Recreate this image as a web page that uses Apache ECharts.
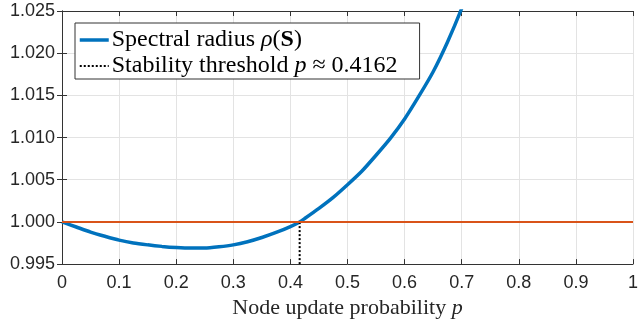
<!DOCTYPE html>
<html>
<head>
<meta charset="utf-8">
<script src="https://cdn.jsdelivr.net/npm/echarts@6/dist/echarts.min.js"></script>
<style>html,body{margin:0;padding:0;background:#fff;}#c{width:641px;height:324px;}</style>
</head>
<body>
<div id="c"></div>
<script>
// Data
var pValues   = [0, 0.025, 0.05, 0.075, 0.1, 0.125, 0.15, 0.175, 0.2, 0.225, 0.25, 0.275, 0.3, 0.325, 0.35, 0.375, 0.4, 0.4162, 0.425, 0.45, 0.475, 0.5, 0.525, 0.55, 0.575, 0.6, 0.625, 0.65, 0.675, 0.7, 0.725];
var rhoValues = [1.0000, 0.9994, 0.9988, 0.9983, 0.99784, 0.9975, 0.99728, 0.9971, 0.99697, 0.99690, 0.99690, 0.99705, 0.99728, 0.99765, 0.99815, 0.99875, 0.99945, 1.0000, 1.0004, 1.0016, 1.0029, 1.0044, 1.0060, 1.0079, 1.0099, 1.0122, 1.0149, 1.0178, 1.0213, 1.0253, 1.0298];
var thresholdP = 0.4162;
var unityLevel = 1.0;
var unityX = [0, 1];
var xTicks = ['0','0.1','0.2','0.3','0.4','0.5','0.6','0.7','0.8','0.9','1'];
var yTicks = ['0.995','1.000','1.005','1.010','1.015','1.020','1.025'];
var seriesNames = ['Spectral radius ρ(S)', 'Stability threshold p ≈ 0.4162'];

var rhoData = pValues.map(function (p, i) { return [p, rhoValues[i]]; });
var threshData = [[thresholdP, Number(yTicks[0])], [thresholdP, unityLevel]];
var unityData = unityX.map(function (x) { return [x, unityLevel]; });

var axisColor = '#333333';
var gridColor = '#e3e3e3';
var serif = 'Liberation Serif, Times New Roman, serif';
var xMin = Number(xTicks[0]), xMax = Number(xTicks[xTicks.length - 1]);
var yMin = Number(yTicks[0]), yMax = Number(yTicks[yTicks.length - 1]);

var chart = echarts.init(document.getElementById('c'), null, {renderer: 'canvas'});
var baseX = {
  type: 'value', min: xMin, max: xMax, interval: 0.1,
  axisLine: {show: true, lineStyle: {color: axisColor, width: 1}},
  axisTick: {show: true, inside: true, length: 5, lineStyle: {color: axisColor}},
  splitLine: {show: false}
};
var baseY = {
  type: 'value', min: yMin, max: yMax, interval: 0.005,
  axisLine: {show: true, lineStyle: {color: axisColor, width: 1}},
  axisTick: {show: true, inside: true, length: 5, lineStyle: {color: axisColor}},
  splitLine: {show: false}
};
var option = {
  animation: false,
  backgroundColor: '#ffffff',
  grid: {left: 62, right: 2, top: 11, bottom: 59, containLabel: false},
  xAxis: [
    Object.assign({}, baseX, {
      position: 'bottom',
      splitLine: {show: true, lineStyle: {color: gridColor, width: 1}},
      axisLabel: {
        margin: 10, color: '#262626', fontSize: 18, fontFamily: 'Liberation Sans, Arial, sans-serif',
        formatter: function (v) { return xTicks[Math.round(v * 10)]; }
      },
      name: '{n|Node update probability }{i|p}',
      nameLocation: 'middle', nameGap: 30,
      nameTextStyle: {
        rich: {
          n: {fontFamily: serif, fontSize: 22, color: '#262626'},
          i: {fontFamily: serif, fontSize: 22, fontStyle: 'italic', color: '#262626'}
        }
      }
    }),
    Object.assign({}, baseX, {position: 'top', axisLabel: {show: false}})
  ],
  yAxis: [
    Object.assign({}, baseY, {
      position: 'left',
      splitLine: {show: true, lineStyle: {color: gridColor, width: 1}},
      axisLabel: {
        margin: 7, color: '#262626', fontSize: 18, fontFamily: 'Liberation Sans, Arial, sans-serif',
        formatter: function (v) { return yTicks[Math.round((v - yMin) / 0.005)]; }
      }
    }),
    Object.assign({}, baseY, {position: 'right', axisLabel: {show: false}})
  ],
  legend: {
    data: [
      {name: seriesNames[0], lineStyle: {width: 3.5, color: '#0072BD'}},
      {name: seriesNames[1], lineStyle: {width: 2, color: '#000000', type: [2, 2]}}
    ],
    orient: 'vertical',
    left: 75, top: 23,
    padding: [5, 22, 1, 3],
    itemGap: 2,
    itemWidth: 29, itemHeight: 14,
    backgroundColor: '#ffffff',
    borderColor: '#333333', borderWidth: 1,
    itemStyle: {opacity: 0, borderWidth: 0},
    formatter: function (name) {
      if (name === seriesNames[0]) return '{n|Spectral radius }{i|ρ}{n|(}{b|S}{n|)}';
      return '{n|Stability threshold }{i|p}{n| ≈ 0.4162}';
    },
    textStyle: {
      padding: [0, 0, 0, -2],
      rich: {
        n: {fontFamily: serif, fontSize: 24, color: '#000', lineHeight: 26},
        i: {fontFamily: serif, fontSize: 24, fontStyle: 'italic', color: '#000', lineHeight: 26},
        b: {fontFamily: serif, fontSize: 24, fontWeight: 'bold', color: '#000', lineHeight: 26}
      }
    }
  },
  series: [
    {
      name: seriesNames[0], type: 'line', data: rhoData, smooth: 0.2,
      symbol: 'none', clip: true,
      lineStyle: {color: '#0072BD', width: 3.5}, itemStyle: {color: '#0072BD'}, z: 3
    },
    {
      name: seriesNames[1], type: 'line', data: threshData,
      symbol: 'none', clip: true,
      lineStyle: {color: '#000000', width: 2, type: [2, 2]}, itemStyle: {color: '#000000'}, z: 4
    },
    {
      name: 'unity', type: 'line', data: unityData,
      symbol: 'none', clip: true,
      lineStyle: {color: '#D95319', width: 2}, itemStyle: {color: '#D95319'}, z: 5
    }
  ]
};
chart.setOption(option);
</script>
</body>
</html>
